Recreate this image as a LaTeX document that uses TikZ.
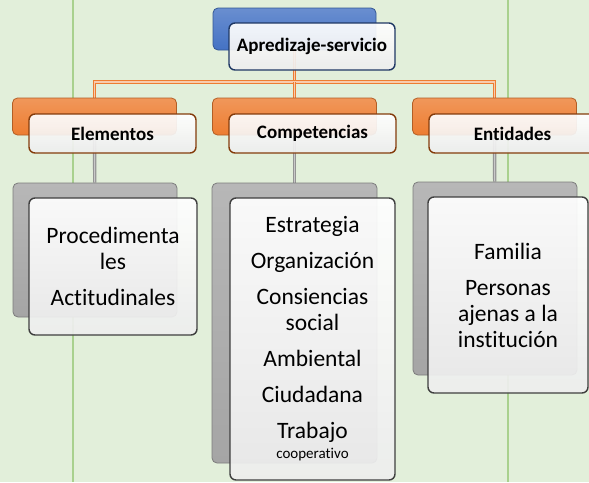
\documentclass[tikz,border=0pt]{standalone}
\usepackage{fontspec}
\setmainfont{Carlito}[Ligatures=NoCommon]
\pgfdeclarelayer{back}
\pgfsetlayers{back,main}
\definecolor{sheet}{HTML}{E2EFDA}
\definecolor{gridgreen}{HTML}{A9D18E}
\definecolor{boxblue}{HTML}{4472C4}
\definecolor{boxorange}{HTML}{ED7D31}
\definecolor{boxgrey}{HTML}{A5A5A5}
\definecolor{navyedge}{HTML}{1F3864}
\definecolor{brownedge}{HTML}{843C0C}
\definecolor{greyedge}{HTML}{3F3F3F}
\definecolor{barlight}{HTML}{F8CBAD}
\newcommand\hdfont{\fontsize{19}{22}\selectfont\bfseries}
\newcommand\txtfont{\fontsize{23.5}{26}\selectfont}
\begin{document}
\begin{tikzpicture}
  [x=1pt,y=-1pt,
   every node/.style={inner sep=0pt,align=center},
   backbox/.style={draw=#1!75!black,line width=0.8pt,rounded corners=5pt,
     top color=#1!80!white,bottom color=#1,minimum width=164pt},
   frontbox/.style={draw=#1,line width=1.4pt,rounded corners=6pt,
     top color=white,bottom color=black!7,fill opacity=0.92,text opacity=1},
   orangeline/.style={draw=boxorange,line width=1.4pt,double=barlight,
     double distance=1.1pt},
   greyline/.style={draw=boxgrey!90!black,line width=1.2pt,double=boxgrey!60!white,
     double distance=1pt},
   gridline/.style={draw=gridgreen,line width=1.4pt}]
  \useasboundingbox (0,0) rectangle (589,482);
  \clip (0,0) rectangle (589,482);
  \node (topback) [backbox=boxblue,minimum width=163pt,minimum height=42pt]
    at (294.5,29) {};
  \node (topfront) [frontbox=navyedge,minimum width=166pt,minimum height=47pt,
    font=\hdfont] at (312,46.5) {Apredizaje-servicio};
  \node (elemback) [backbox=boxorange,minimum height=37pt] at (94.5,116.5) {};
  \node (elemfront) [frontbox=brownedge,minimum width=167pt,minimum height=39pt,
    font=\hdfont] at (112.5,133.5) {Elementos};
  \node (compback) [backbox=boxorange,minimum height=37pt] at (294.5,116.5) {};
  \node (compfront) [frontbox=brownedge,minimum width=167pt,minimum height=39pt,
    font=\hdfont] at (312.5,133.5) {Competencias};
  \node (entback) [backbox=boxorange,minimum height=37pt] at (494.5,116.5) {};
  \node (entfront) [frontbox=brownedge,minimum width=167pt,minimum height=39pt,
    font=\hdfont] at (512.5,133.5) {Entidades};
  \node (elemlistback) [backbox=boxgrey,minimum height=134pt] at (95,250) {};
  \node (elemlist) [frontbox=greyedge,minimum width=168pt,minimum height=137pt,
    font=\txtfont] at (113,266.5)
    {Procedimenta\\les\\[10pt]Actitudinales};
  \node (complistback) [backbox=boxgrey,minimum width=165pt,minimum height=280pt]
    at (294.5,323) {};
  \node (complist) [frontbox=greyedge,minimum width=165pt,minimum height=282pt,
    font=\txtfont] at (312.5,339)
    {Estrategia\\[10pt]Organización\\[10pt]Consiencias\\social\\[10pt]%
     Ambiental\\[10pt]Ciudadana\\[10pt]Trabajo\\[-6pt]%
     {\fontsize{15}{15}\selectfont cooperativo}};
  \node (entlistback) [backbox=boxgrey,minimum height=193pt] at (495,278.5) {};
  \node (entlist) [frontbox=greyedge,minimum width=160pt,minimum height=196pt,
    font=\txtfont] at (508,295)
    {Familia\\[10pt]Personas\\ajenas a la\\institución};
  \begin{pgfonlayer}{back}
    \fill [sheet] (0,0) rectangle (589,482);
    \draw [gridline] (73,0) -- (73,482);
    \draw [gridline] (508,0) -- (508,482);
    \coordinate (bar) at (294.5,82);
    \draw [orangeline]
      (topback) -- (bar)
    ;
    \draw [orangeline]
      (elemback) |- (bar)
      -| (entback)
    ;
    \draw [orangeline]
      (bar) -- (compback)
    ;
    \draw [greyline] (elemback) -- (elemlistback);
    \draw [greyline] (compback) -- (complistback);
    \draw [greyline] (entback) -- (entlistback);
  \end{pgfonlayer}
\end{tikzpicture}
\end{document}
